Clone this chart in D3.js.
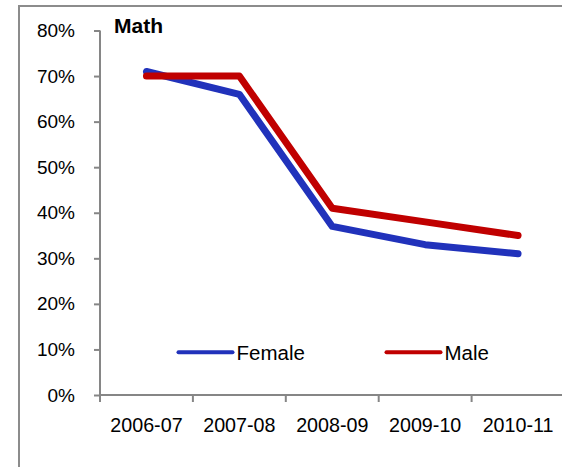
<!DOCTYPE html>
<html>
<head>
<meta charset="utf-8">
<script src="https://cdn.jsdelivr.net/npm/d3@7"></script>
<style>
  html, body { margin: 0; padding: 0; background: #fff; }
  svg { display: block; font-family: "Liberation Sans", Arial, sans-serif; }
</style>
</head>
<body>
<svg id="chart" width="562" height="467"></svg>
<script>
const categories = ["2006-07", "2007-08", "2008-09", "2009-10", "2010-11"];
const female = [0.71, 0.66, 0.37, 0.33, 0.31];
const male = [0.70, 0.70, 0.41, 0.38, 0.35];
const yTicks = [0, 0.1, 0.2, 0.3, 0.4, 0.5, 0.6, 0.7, 0.8];
const seriesNames = ["Female", "Male"];
const seriesColors = ["#2132bb", "#c00000"];

const svg = d3.select("#chart");

// outer frame (extends beyond the visible area)
svg.append("rect")
  .attr("x", 19).attr("y", 6)
  .attr("width", 600).attr("height", 500)
  .attr("fill", "none").attr("stroke", "#8c8c8c").attr("stroke-width", 2);

const x = d3.scaleBand().domain(categories).range([100, 564.5]);
const y = d3.scaleLinear().domain([0, 0.8]).range([395, 30.5]);

// Y axis
const yAxis = svg.append("g").attr("transform", "translate(100,0)")
  .call(d3.axisLeft(y).tickValues(yTicks).tickFormat(d3.format(".0%")).tickSize(6).tickPadding(19));
yAxis.select(".domain").attr("stroke", "#868686").attr("stroke-width", 2)
  .attr("d", `M0,${y(0.8)}V${y(0)}`);
yAxis.selectAll(".tick line").attr("stroke", "#868686").attr("stroke-width", 2);
yAxis.selectAll(".tick text").attr("font-size", "19px").attr("fill", "#000")
  .attr("font-family", "Liberation Sans, Arial, sans-serif");

// X axis
const xAxis = svg.append("g").attr("transform", "translate(0,395)")
  .call(d3.axisBottom(x).tickSize(0).tickPadding(23));
xAxis.select(".domain").attr("stroke", "#868686").attr("stroke-width", 2)
  .attr("d", `M100,0H564.5`);
xAxis.selectAll(".tick text").attr("font-size", "19.7px").attr("fill", "#000")
  .attr("font-family", "Liberation Sans, Arial, sans-serif");
// tick marks at band boundaries
const bounds = categories.map(c => x(c));
svg.append("g").selectAll("line").data(bounds).join("line")
  .attr("x1", d => d).attr("x2", d => d)
  .attr("y1", 395).attr("y2", 402)
  .attr("stroke", "#868686").attr("stroke-width", 2);

// Lines
const line = d3.line()
  .x((d, i) => x(categories[i]) + x.bandwidth() / 2)
  .y(d => y(d));

[female, male].forEach((vals, k) => {
  svg.append("path")
    .datum(vals)
    .attr("d", line)
    .attr("fill", "none")
    .attr("stroke", seriesColors[k])
    .attr("stroke-width", 7)
    .attr("stroke-linecap", "round")
    .attr("stroke-linejoin", "round");
});

// Title
svg.append("text").attr("x", 114).attr("y", 32.5)
  .attr("font-size", "21px").attr("font-weight", "bold").attr("fill", "#000")
  .text("Math");

// Legend
const legendX = [178.5, 386.5];
seriesNames.forEach((name, k) => {
  const g = svg.append("g");
  g.append("line")
    .attr("x1", legendX[k]).attr("x2", legendX[k] + 54)
    .attr("y1", 352.3).attr("y2", 352.3)
    .attr("stroke", seriesColors[k]).attr("stroke-width", 4)
    .attr("stroke-linecap", "round");
  g.append("text")
    .attr("x", legendX[k] + 58).attr("y", 359.5)
    .attr("font-size", "20.5px").attr("fill", "#000")
    .text(name);
});
</script>
</body>
</html>
